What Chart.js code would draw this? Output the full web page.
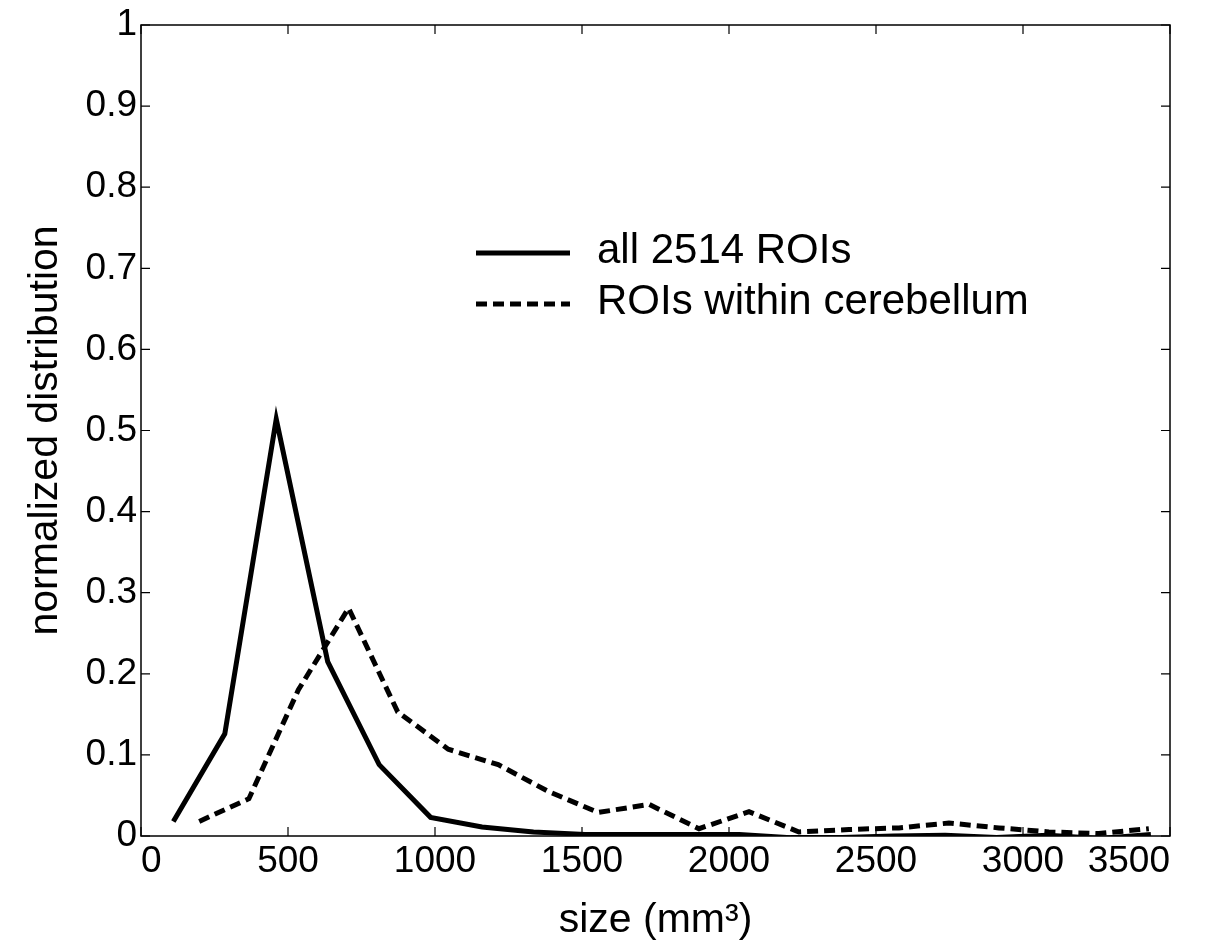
<!DOCTYPE html>
<html>
<head>
<meta charset="utf-8">
<script src="https://cdn.jsdelivr.net/npm/chart.js@4.4.1/dist/chart.umd.min.js"></script>
<style>
html,body{margin:0;padding:0;background:#fff;}
#wrap{width:1205px;height:945px;position:relative;}
</style>
</head>
<body>
<div id="wrap"><canvas id="c" width="1205" height="945"></canvas></div>
<script>
// ---- data ----
const allX = [110, 285, 460, 635, 810, 985, 1160, 1335, 1510, 1685, 1860, 2035, 2210, 2385, 2560, 2735, 2910, 3085, 3260, 3435];
const allY = [0.018, 0.126, 0.514, 0.215, 0.088, 0.023, 0.011, 0.005, 0.002, 0.002, 0.002, 0.002, -0.002, -0.002, 0.000, 0.001, -0.002, 0.001, -0.003, 0.002];
const cerX = [198, 367, 535, 706, 873, 1045, 1215, 1385, 1555, 1728, 1898, 2068, 2238, 2408, 2578, 2748, 2918, 3088, 3258, 3428];
const cerY = [0.018, 0.046, 0.180, 0.281, 0.153, 0.107, 0.088, 0.055, 0.029, 0.039, 0.009, 0.030, 0.005, 0.008, 0.010, 0.016, 0.010, 0.005, 0.003, 0.009];
const seriesLabels = ['all 2514 ROIs', 'ROIs within cerebellum'];
const xTitle = 'size (mm\u00B3)';
const yTitle = 'normalized distribution';
const xTicks = [0, 500, 1000, 1500, 2000, 2500, 3000, 3500];
const yTicks = [0, 0.1, 0.2, 0.3, 0.4, 0.5, 0.6, 0.7, 0.8, 0.9, 1];

const FONT = "'Liberation Sans', Arial, Helvetica, sans-serif";

const toPts = (xs, ys) => xs.map((x, i) => ({x: x, y: ys[i]}));

const framePlugin = {
  id: 'frame',
  afterDatasetsDraw(chart) {
    const ctx = chart.ctx, a = chart.chartArea;
    const xs = chart.scales.x, ys = chart.scales.y;
    ctx.save();
    ctx.strokeStyle = '#000';
    ctx.lineWidth = 1.5;
    ctx.strokeRect(a.left, a.top, a.right - a.left, a.bottom - a.top);
    const tl = 9;
    ctx.lineWidth = 1.2;
    ctx.beginPath();
    xTicks.forEach(v => {
      const p = xs.getPixelForValue(v);
      ctx.moveTo(p, a.bottom); ctx.lineTo(p, a.bottom - tl);
      ctx.moveTo(p, a.top); ctx.lineTo(p, a.top + tl);
    });
    yTicks.forEach(v => {
      const p = ys.getPixelForValue(v);
      ctx.moveTo(a.left, p); ctx.lineTo(a.left + tl, p);
      ctx.moveTo(a.right, p); ctx.lineTo(a.right - tl, p);
    });
    ctx.stroke();
    // legend inside plot
    const lx0 = 476, lx1 = 570, tx = 597;
    const rows = [253, 304];
    chart.data.datasets.forEach((ds, i) => {
      ctx.beginPath();
      ctx.lineWidth = ds.borderWidth;
      ctx.setLineDash(ds.borderDash || []);
      ctx.moveTo(lx0, rows[i]); ctx.lineTo(lx1, rows[i]);
      ctx.stroke();
      ctx.setLineDash([]);
      ctx.fillStyle = '#000';
      ctx.font = "42px " + FONT;
      ctx.textBaseline = 'middle';
      ctx.textAlign = 'left';
      ctx.fillText(ds.label, tx, rows[i] - 2);
    });
    ctx.restore();
  }
};

new Chart(document.getElementById('c'), {
  type: 'line',
  data: {
    datasets: [
      {label: seriesLabels[0], data: toPts(allX, allY), borderColor: '#000', borderWidth: 5, pointRadius: 0, tension: 0, fill: false},
      {label: seriesLabels[1], data: toPts(cerX, cerY), borderColor: '#000', borderWidth: 5, borderDash: [11, 6], pointRadius: 0, tension: 0, fill: false}
    ]
  },
  options: {
    responsive: false,
    animation: false,
    layout: {padding: {top: 25, right: 35, left: 0, bottom: 0}},
    plugins: {legend: {display: false}, tooltip: {enabled: false}},
    scales: {
      x: {
        type: 'linear', min: 0, max: 3500,
        afterBuildTicks: s => { s.ticks = xTicks.map(v => ({value: v})); },
        afterFit: s => { s.height = 109; s.paddingRight = 0; s.paddingLeft = 0; },
        grid: {display: false, drawTicks: false},
        border: {display: false},
        ticks: {color: '#000', font: {family: FONT, size: 37}, padding: 4, maxRotation: 0, autoSkip: false,
          align: 'inner', callback: v => String(v)},
        title: {display: true, text: xTitle, color: '#000', font: {family: FONT, size: 41}, padding: {top: 0, bottom: 0}}
      },
      y: {
        type: 'linear', min: 0, max: 1,
        afterBuildTicks: s => { s.ticks = yTicks.map(v => ({value: v})); },
        afterFit: s => { s.width = 141; s.paddingTop = 0; s.paddingBottom = 0; },
        grid: {display: false, drawTicks: false},
        border: {display: false},
        ticks: {color: '#000', font: {family: FONT, size: 37}, padding: 4, autoSkip: false,
          callback: v => (v === 0 ? '0' : v === 1 ? '1' : v.toFixed(1))},
        title: {display: true, text: yTitle, color: '#000', font: {family: FONT, size: 41}, padding: {top: 21, bottom: 0}}
      }
    }
  },
  plugins: [framePlugin]
});
</script>
</body>
</html>
